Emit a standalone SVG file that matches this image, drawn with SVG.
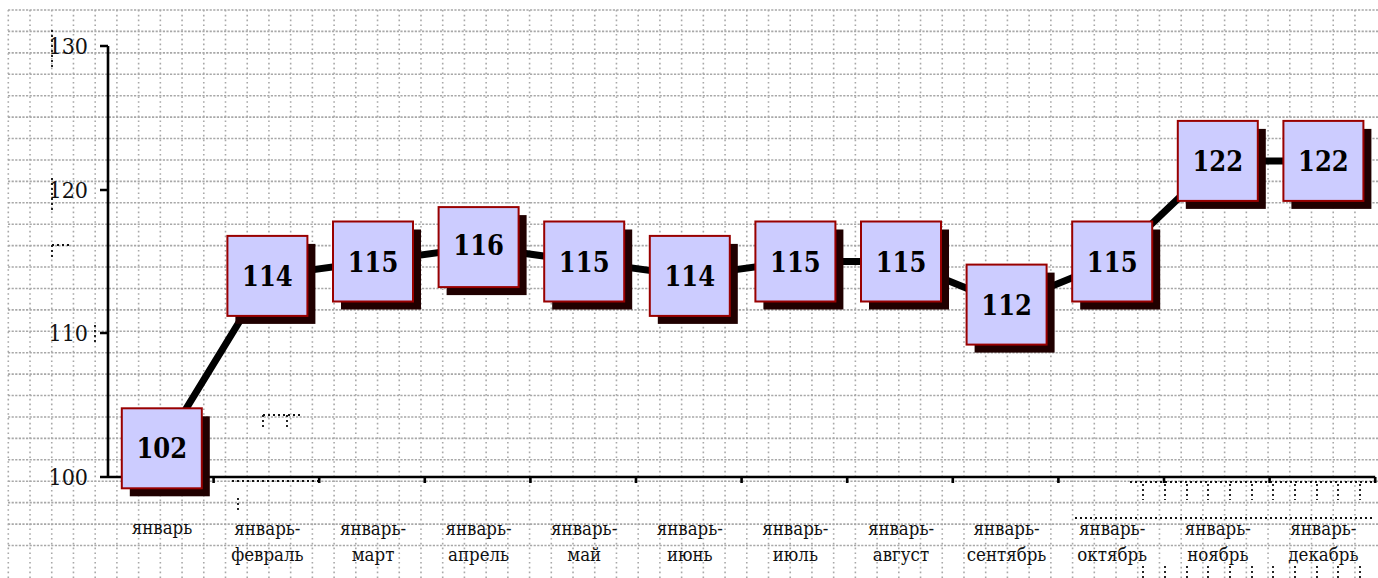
<svg xmlns="http://www.w3.org/2000/svg" width="1378" height="578" viewBox="0 0 1378 578">
<style>
.gv{fill:none;stroke:#a8a8a8;stroke-width:1.6;stroke-dasharray:1.6 3.2}
.gh{fill:none;stroke:#a8a8a8;stroke-width:1.6;stroke-dasharray:2.2 1.4}
.art{fill:none;stroke:#111;stroke-width:1.8;stroke-dasharray:2 3}
.axis{fill:none;stroke:#000;stroke-width:2.6}
.conn{fill:none;stroke:#000;stroke-width:7;stroke-linejoin:round}
.sh{fill:#200000}
.bx{fill:#ccccff;stroke:#990000;stroke-width:2}
text{font-family:"DejaVu Serif Condensed","DejaVu Serif",serif;font-stretch:condensed}
.val{font-weight:bold;font-size:27px;fill:#000;text-anchor:middle}
.yl{font-size:23px;fill:#111;text-anchor:end}
.xl{font-size:18.5px;fill:#111;text-anchor:middle}
</style>
<rect width="1378" height="578" fill="#fff"/>
<g id="grid">
<path class="gv" d="M8.3 10v568m21.72-568v568m21.72-568v568m21.72-568v568m21.72-568v568m21.72-568v568m21.72-568v568m21.72-568v568m21.72-568v568
m21.72-568v568m21.72-568v568m21.72-568v568m21.72-568v568m21.72-568v568m21.72-568v568m21.72-568v568m21.72-568v568m21.72-568v568
m21.72-568v568m21.72-568v568m21.72-568v568m21.72-568v568m21.72-568v568m21.72-568v568m21.72-568v568m21.72-568v568m21.72-568v568
m21.72-568v568m21.72-568v568m21.72-568v568m21.72-568v568m21.72-568v568m21.72-568v568m21.72-568v568m21.72-568v568m21.72-568v568
m21.72-568v568m21.72-568v568m21.72-568v568m21.72-568v568m21.72-568v568m21.72-568v568m21.72-568v568m21.72-568v568m21.72-568v568
m21.72-568v568m21.72-568v568m21.72-568v568m21.72-568v568m21.72-568v568m21.72-568v568m21.72-568v568m21.72-568v568m21.72-568v568
m21.72-568v568m21.72-568v568m21.72-568v568m21.72-568v568m21.72-568v568m21.72-568v568m21.72-568v568m21.72-568v568m21.72-568v568"/>
<path class="gh" d="M8 10h1370m-1370 21.42h1370m-1370 21.42h1370m-1370 21.42h1370m-1370 21.42h1370m-1370 21.42h1370m-1370 21.42h1370m-1370 21.42h1370m-1370 21.42h1370m-1370 21.42h1370m-1370 21.42h1370m-1370 21.42h1370m-1370 21.42h1370
m-1370 21.42h1370m-1370 21.42h1370m-1370 21.42h1370m-1370 21.42h1370m-1370 21.42h1370m-1370 21.42h1370m-1370 21.42h1370m-1370 21.42h1370m-1370 21.42h1370m-1370 21.42h1370m-1370 21.42h1370m-1370 21.42h1370m-1370 21.42h1370"/>
<path class="art" d="M52 30v40M52 178v34M52 245h18M52 245v14M95 325v20M263 415h37M263 415v12M287 415v12M232 481h88M238 498v12M1130 482h245M1075 518h300M1143 484v16M1165 484v16M1187 484v16M1208 484v16M1230 484v16M1252 484v16M1273 484v16M1295 484v16M1317 484v16M1338 484v16M1360 484v16M1143 566v12M1165 566v12M1187 566v12M1208 566v12M1230 566v12M1252 566v12M1273 566v12M1295 566v12M1317 566v12M1338 566v12M1360 566v12"/>
</g>
<g id="axes">
<path class="axis" d="M108 46V477M100 46h8M100 190h8M100 333h8M100 477H1375.2"/>
<path class="axis" d="M213.6 477v6M319.2 477v6M424.8 477v6M530.4 477v6M636 477v6M741.6 477v6M847.2 477v6M952.8 477v6M1058.4 477v6M1164 477v6M1269.6 477v6M1375.2 477v6"/>
<text class="yl" x="88" y="54">130</text>
<text class="yl" x="88" y="198">120</text>
<text class="yl" x="88" y="341">110</text>
<text class="yl" x="88" y="485">100</text>
</g>
<g id="x-labels">
<text class="xl" x="162" y="534">январь</text>
<text class="xl" x="267.4" y="535">январь-<tspan x="267.4" y="561">февраль</tspan></text>
<text class="xl" x="373" y="535">январь-<tspan x="373" y="561">март</tspan></text>
<text class="xl" x="478.6" y="535">январь-<tspan x="478.6" y="561">апрель</tspan></text>
<text class="xl" x="584.2" y="535">январь-<tspan x="584.2" y="561">май</tspan></text>
<text class="xl" x="689.8" y="535">январь-<tspan x="689.8" y="561">июнь</tspan></text>
<text class="xl" x="795.4" y="535">январь-<tspan x="795.4" y="561">июль</tspan></text>
<text class="xl" x="901" y="535">январь-<tspan x="901" y="561">август</tspan></text>
<text class="xl" x="1006.6" y="535">январь-<tspan x="1006.6" y="561">сентябрь</tspan></text>
<text class="xl" x="1112.2" y="535">январь-<tspan x="1112.2" y="561">октябрь</tspan></text>
<text class="xl" x="1217.8" y="535">январь-<tspan x="1217.8" y="561">ноябрь</tspan></text>
<text class="xl" x="1323.4" y="535">январь-<tspan x="1323.4" y="561">декабрь</tspan></text>
</g>
<g id="connectors">
<polyline class="conn" points="161.8,448.3 267.4,275.9 373,261.5 478.6,247.1 584.2,261.5 689.8,275.9 795.4,261.5 901,261.5 1006.6,304.6 1112.2,261.5 1217.8,160.9 1323.4,160.9"/>
</g>
<g id="p1"><rect class="sh" x="129.8" y="416.3" width="80" height="80"/><rect class="bx" x="121.8" y="408.3" width="80" height="80"/><text class="val" x="161.8" y="458.3">102</text></g>
<g id="p2"><rect class="sh" x="235.4" y="243.9" width="80" height="80"/><rect class="bx" x="227.4" y="235.9" width="80" height="80"/><text class="val" x="267.4" y="285.9">114</text></g>
<g id="p3"><rect class="sh" x="341" y="229.5" width="80" height="80"/><rect class="bx" x="333" y="221.5" width="80" height="80"/><text class="val" x="373" y="271.5">115</text></g>
<g id="p4"><rect class="sh" x="446.6" y="215.1" width="80" height="80"/><rect class="bx" x="438.6" y="207.1" width="80" height="80"/><text class="val" x="478.6" y="255">116</text></g>
<g id="p5"><rect class="sh" x="552.2" y="229.5" width="80" height="80"/><rect class="bx" x="544.2" y="221.5" width="80" height="80"/><text class="val" x="584.2" y="271.5">115</text></g>
<g id="p6"><rect class="sh" x="657.8" y="243.9" width="80" height="80"/><rect class="bx" x="649.8" y="235.9" width="80" height="80"/><text class="val" x="689.8" y="285.9">114</text></g>
<g id="p7"><rect class="sh" x="763.4" y="229.5" width="80" height="80"/><rect class="bx" x="755.4" y="221.5" width="80" height="80"/><text class="val" x="795.4" y="271.5">115</text></g>
<g id="p8"><rect class="sh" x="869" y="229.5" width="80" height="80"/><rect class="bx" x="861" y="221.5" width="80" height="80"/><text class="val" x="901" y="271.5">115</text></g>
<g id="p9"><rect class="sh" x="974.6" y="272.6" width="80" height="80"/><rect class="bx" x="966.6" y="264.6" width="80" height="80"/><text class="val" x="1006.6" y="314.6">112</text></g>
<g id="p10"><rect class="sh" x="1080.2" y="229.5" width="80" height="80"/><rect class="bx" x="1072.2" y="221.5" width="80" height="80"/><text class="val" x="1112.2" y="271.5">115</text></g>
<g id="p11"><rect class="sh" x="1185.8" y="128.9" width="80" height="80"/><rect class="bx" x="1177.8" y="120.9" width="80" height="80"/><text class="val" x="1217.8" y="170.9">122</text></g>
<g id="p12"><rect class="sh" x="1291.4" y="128.9" width="80" height="80"/><rect class="bx" x="1283.4" y="120.9" width="80" height="80"/><text class="val" x="1323.4" y="170.9">122</text></g>
</svg>
